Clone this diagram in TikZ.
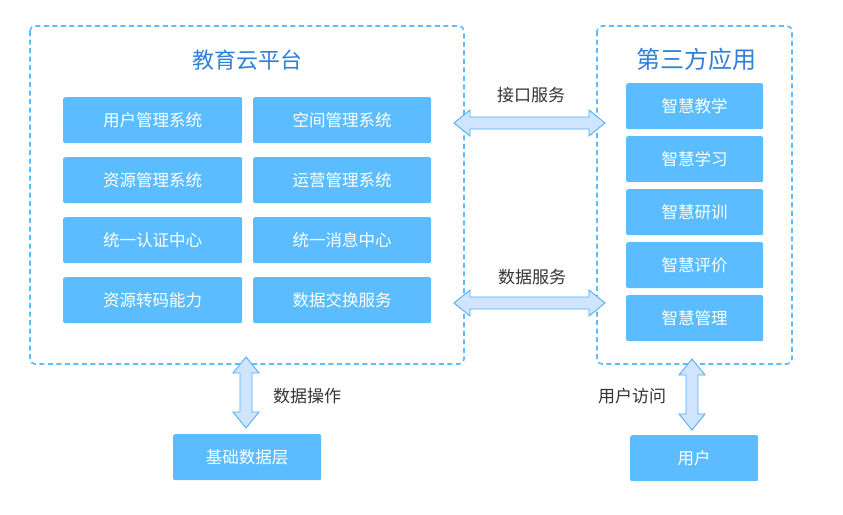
\documentclass[tikz,border=0pt]{standalone}
\usepackage{fontspec}
\setmainfont{Noto Sans CJK SC}
\definecolor{boxblue}{HTML}{5BBDFF}
\definecolor{titleblue}{HTML}{2F80D8}
\definecolor{arrowfill}{HTML}{CFE5FF}
\definecolor{arrowline}{HTML}{55AEF0}
\definecolor{labelgray}{HTML}{333333}
\newcommand\myharrow[3]{% x1, x2, y
  \filldraw[arrowstyle] (#1,#3) -- ({#1+16},{#3-13}) -- ({#1+16},{#3-6}) -- ({#2-16},{#3-6}) -- ({#2-16},{#3-13}) -- (#2,#3) -- ({#2-16},{#3+13}) -- ({#2-16},{#3+6}) -- ({#1+16},{#3+6}) -- ({#1+16},{#3+13}) -- cycle;}
\newcommand\myvarrow[3]{% y1, y2, x
  \filldraw[arrowstyle] (#3,#1) -- ({#3-13},{#1+16}) -- ({#3-6},{#1+16}) -- ({#3-6},{#2-16}) -- ({#3-13},{#2-16}) -- (#3,#2) -- ({#3+13},{#2-16}) -- ({#3+6},{#2-16}) -- ({#3+6},{#1+16}) -- ({#3+13},{#1+16}) -- cycle;}
\begin{document}
\begin{tikzpicture}[x=1pt,y=-1pt,
  dashbox/.style={draw=boxblue, line width=1.6pt, dash pattern=on 5pt off 3.5pt, rounded corners=5pt},
  sysbox/.style={fill=boxblue, rounded corners=2pt, text=white, font=\fontsize{16.5}{18}\selectfont, anchor=north west, inner sep=0pt},
  title/.style={text=titleblue, font=\fontsize{22}{24}\selectfont},
  lbl/.style={text=labelgray, font=\fontsize{17}{19}\selectfont},
  arrowstyle/.style={fill=arrowfill, draw=arrowline, line width=0.9pt, line join=miter}]
\useasboundingbox (0,0) rectangle (843,514);
\draw[dashbox] (30,26) rectangle (464,364);
\draw[dashbox] (597,26) rectangle (792,364);
\node[title] (t1) at (247,60) {教育云平台};
\node[title, font=\fontsize{24}{26}\selectfont] (t2) at (696,59) {第三方应用};
% left grid
\node[sysbox, minimum width=179pt, minimum height=46pt] (a1) at (63,97) {用户管理系统};
\node[sysbox, minimum width=178pt, minimum height=46pt] (b1) at (253,97) {空间管理系统};
\node[sysbox, minimum width=179pt, minimum height=46pt] (a2) at (63,157) {资源管理系统};
\node[sysbox, minimum width=178pt, minimum height=46pt] (b2) at (253,157) {运营管理系统};
\node[sysbox, minimum width=179pt, minimum height=46pt] (a3) at (63,217) {统一认证中心};
\node[sysbox, minimum width=178pt, minimum height=46pt] (b3) at (253,217) {统一消息中心};
\node[sysbox, minimum width=179pt, minimum height=46pt] (a4) at (63,277) {资源转码能力};
\node[sysbox, minimum width=178pt, minimum height=46pt] (b4) at (253,277) {数据交换服务};
% right column
\node[sysbox, minimum width=137pt, minimum height=46pt] (c1) at (626,83) {智慧教学};
\node[sysbox, minimum width=137pt, minimum height=46pt] (c2) at (626,136) {智慧学习};
\node[sysbox, minimum width=137pt, minimum height=46pt] (c3) at (626,189) {智慧研训};
\node[sysbox, minimum width=137pt, minimum height=46pt] (c4) at (626,242) {智慧评价};
\node[sysbox, minimum width=137pt, minimum height=46pt] (c5) at (626,295) {智慧管理};
% bottom
\node[sysbox, minimum width=148pt, minimum height=46pt] (d1) at (173,434) {基础数据层};
\node[sysbox, minimum width=128pt, minimum height=46pt] (d2) at (630,435) {用户};
% arrows
\myharrow{454}{605}{123}
\myharrow{454}{605}{303}
\myvarrow{357}{428}{246}
\myvarrow{359}{430}{692}
% labels
\node[lbl] (l1) at (531,95) {接口服务};
\node[lbl] (l2) at (532,277) {数据服务};
\node[lbl] (l3) at (307,396) {数据操作};
\node[lbl] (l4) at (632,396) {用户访问};
\end{tikzpicture}
\end{document}
